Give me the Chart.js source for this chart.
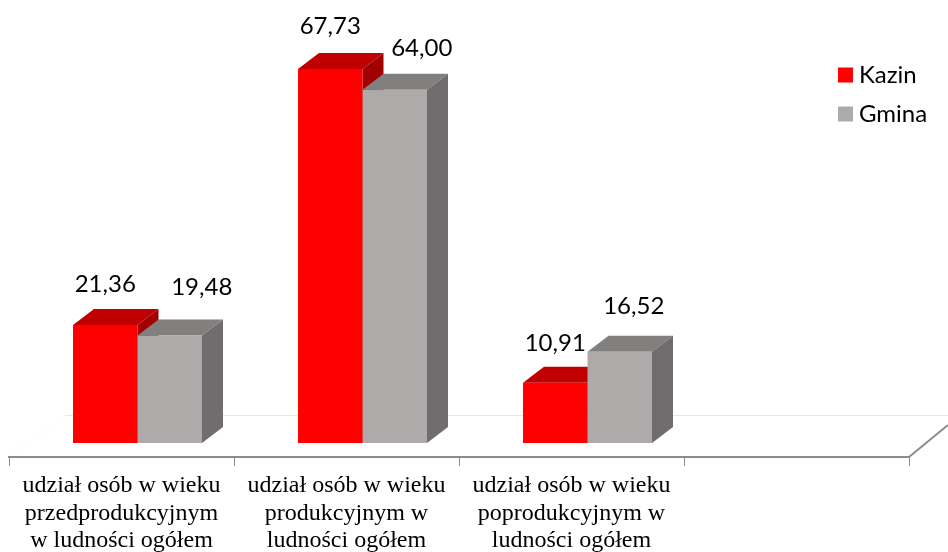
<!DOCTYPE html>
<html lang="pl">
<head>
<meta charset="utf-8">
<style>html,body{margin:0;padding:0;background:#fff}#w{width:948px;height:552px;position:relative}</style>
<script src="https://cdn.jsdelivr.net/npm/chart.js@4/dist/chart.umd.min.js"></script>
</head>
<body>
<div id="w"><canvas id="c"></canvas></div>
<script>
const categories = [
  ['udział osób w wieku', 'przedprodukcyjnym', 'w ludności ogółem'],
  ['udział osób w wieku', 'produkcyjnym w', 'ludności ogółem'],
  ['udział osób w wieku', 'poprodukcyjnym w', 'ludności ogółem'],
  ''
];
const kazin = [21.36, 67.73, 10.91, null];
const gmina = [19.48, 64.00, 16.52, null];

const faces = [
  { front: '#ff0000', top: '#c00000', side: '#a00000' },
  { front: '#aeaaaa', top: '#827f7f', side: '#6f6d6d' }
];
const depth = { x: 21, y: 16 };
const groupShift = 16;
const labelFont = '24px Lato, "Open Sans", sans-serif';
// label centre relative to the top middle of the bar's front face [dx, dy]
const labelNudge = [
  [[0, -41], [0, -43], [0, -39]],
  [[32, -48], [27, -41], [14, -46]]
];

function poly(ctx, pts, fill) {
  ctx.fillStyle = fill;
  ctx.beginPath();
  pts.forEach((p, i) => i ? ctx.lineTo(p[0], p[1]) : ctx.moveTo(p[0], p[1]));
  ctx.closePath();
  ctx.fill();
}

const bars3d = {
  id: 'bars3d',
  afterDatasetsUpdate(chart) {
    chart.data.datasets.forEach((d, i) => {
      chart.getDatasetMeta(i).data.forEach(el => { el.x += groupShift; });
    });
  },
  afterLayout(chart) {
    const l = chart.legend;
    l.left = 829; l.right = 948; l.top = 48; l.bottom = 150;
  },
  beforeDatasetsDraw(chart) {
    const { ctx, chartArea: a, scales: { y } } = chart;
    const backY = y.getPixelForValue(0) - depth.y * 1.75;
    ctx.save();
    // floor: back edge, left edge (barely visible), right edge
    ctx.strokeStyle = '#e6e6e6';
    ctx.lineWidth = 1;
    ctx.beginPath();
    ctx.moveTo(65, backY + 0.5);
    ctx.lineTo(948, backY + 0.5);
    ctx.stroke();
    ctx.strokeStyle = '#f4f4f4';
    ctx.setLineDash([2, 3]);
    ctx.beginPath();
    ctx.moveTo(a.left + 3, a.bottom - 3);
    ctx.lineTo(65, backY + 0.5);
    ctx.stroke();
    ctx.setLineDash([]);
    ctx.strokeStyle = '#8c8c8c';
    ctx.lineWidth = 2;
    ctx.beginPath();
    ctx.moveTo(a.right, a.bottom);
    ctx.lineTo(a.right + 39, a.bottom - 32);
    ctx.stroke();
    // depth faces, category by category
    categories.forEach((_, idx) => {
      chart.data.datasets.forEach((d, i) => {
        const el = chart.getDatasetMeta(i).data[idx];
        if (d.data[idx] == null) return;
        const p = el.getProps(['x', 'y', 'base', 'width'], true);
        const l = p.x - p.width / 2, r = p.x + p.width / 2;
        poly(ctx, [[l, p.y], [l + depth.x, p.y - depth.y], [r + depth.x, p.y - depth.y], [r, p.y]], faces[i].top);
        poly(ctx, [[r, p.y], [r + depth.x, p.y - depth.y], [r + depth.x, p.base - depth.y], [r, p.base]], faces[i].side);
      });
    });
    ctx.restore();
  },
  afterDatasetsDraw(chart) {
    const { ctx } = chart;
    ctx.save();
    ctx.font = labelFont;
    ctx.fillStyle = '#000';
    ctx.textAlign = 'center';
    ctx.textBaseline = 'middle';
    chart.data.datasets.forEach((d, i) => {
      chart.getDatasetMeta(i).data.forEach((el, idx) => {
        if (d.data[idx] == null) return;
        const n = labelNudge[i][idx];
        ctx.fillText(d.data[idx].toFixed(2).replace('.', ','), el.x + n[0], el.y + n[1]);
      });
    });
    ctx.restore();
  }
};

new Chart(document.getElementById('c'), {
  type: 'bar',
  data: {
    labels: categories,
    datasets: [
      { label: 'Kazin', data: kazin, backgroundColor: faces[0].front },
      { label: 'Gmina', data: gmina, backgroundColor: faces[1].front }
    ]
  },
  plugins: [bars3d],
  options: {
    responsive: true,
    maintainAspectRatio: false,
    animation: false,
    devicePixelRatio: 1,
    layout: { padding: { left: 9, right: 39, top: 0, bottom: 0 } },
    datasets: { bar: { barPercentage: 1, categoryPercentage: 0.5733 } },
    plugins: {
      tooltip: { enabled: false },
      legend: {
        position: 'chartArea',
        align: 'start',
        labels: {
          boxWidth: 3, boxHeight: 3, padding: 15,
          color: '#000',
          font: { family: 'Lato, "Open Sans", sans-serif', size: 24 },
          generateLabels(chart) {
            return Chart.defaults.plugins.legend.labels.generateLabels(chart).map(it => {
              it.strokeStyle = it.fillStyle;
              it.lineWidth = 12;
              return it;
            });
          }
        }
      }
    },
    scales: {
      x: {
        afterFit(s) { s.height = 95; },
        grid: { drawOnChartArea: false, drawTicks: true, tickLength: 9, color: '#8c8c8c', lineWidth: 1, offset: true },
        border: { color: '#8c8c8c', width: 2 },
        ticks: {
          autoSkip: false, maxRotation: 0, minRotation: 0, padding: 6,
          color: '#000',
          font: { family: '"Liberation Serif", serif', size: 24, lineHeight: 1.146 }
        }
      },
      y: { display: false, min: -2.54, max: 80.25, grid: { display: false } }
    }
  }
});
</script>
</body>
</html>
